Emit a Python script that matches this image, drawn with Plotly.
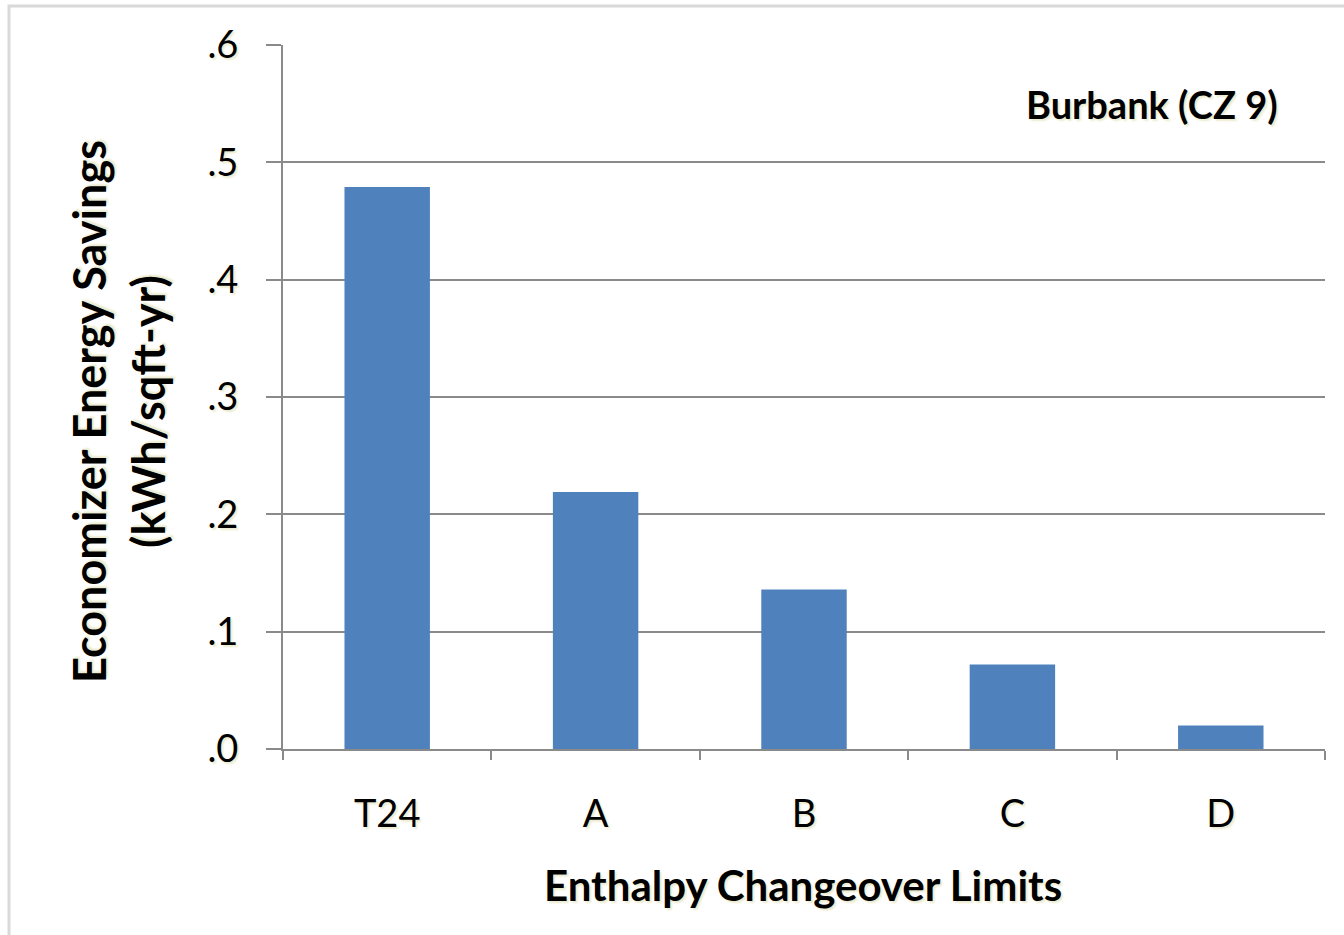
import plotly.graph_objects as go

categories = ["T24", "A", "B", "C", "D"]
savings = [0.479, 0.219, 0.136, 0.072, 0.020]
ytick_vals = [0.0, 0.1, 0.2, 0.3, 0.4, 0.5, 0.6]
ytick_text = [".0", ".1", ".2", ".3", ".4", ".5", ".6"]

W, H = 1344, 935
L, R, T, B = 283, 19, 45, 186
pw, ph = W - L - R, H - T - B

def px_x(x):
    return (x - L) / pw

def px_y(y):
    return (H - B - y) / ph

FONT = "Lato, Open Sans, sans-serif"
SHADOW = "2px 2px 2px #ecebcf"
GRID = "#8a8a8a"

fig = go.Figure(go.Bar(
    x=categories, y=savings,
    marker=dict(color="#4f81bd", line=dict(width=0)),
))

fig.update_layout(
    width=W, height=H,
    margin=dict(l=L, r=R, t=T, b=B, autoexpand=False),
    paper_bgcolor="white", plot_bgcolor="white",
    bargap=0.59,
    showlegend=False,
    font=dict(family=FONT, color="black", shadow=SHADOW),
    xaxis=dict(
        type="category",
        showgrid=False,
        showline=True, linecolor=GRID, linewidth=2,
        ticks="outside", tickson="boundaries", ticklen=9, tickwidth=2, tickcolor=GRID,
        tickfont=dict(size=38, family=FONT, shadow=SHADOW),
        ticklabelstandoff=30,
    ),
    yaxis=dict(
        range=[0, 0.6],
        tickvals=ytick_vals, ticktext=ytick_text,
        showgrid=True, gridcolor=GRID, gridwidth=2,
        showline=True, linecolor=GRID, linewidth=2,
        zeroline=False,
        ticks="outside", ticklen=15, tickwidth=2, tickcolor=GRID,
        tickfont=dict(size=38, family=FONT, shadow=SHADOW),
        ticklabelstandoff=20,
    ),
    annotations=[
        dict(text="Burbank (CZ 9)", xref="paper", yref="paper",
             x=px_x(1280), y=px_y(104), xanchor="right", yanchor="middle",
             showarrow=False, font=dict(size=38, family=FONT, weight="bold", shadow=SHADOW)),
        dict(text="Enthalpy Changeover Limits", xref="paper", yref="paper",
             x=px_x(803), y=px_y(885), xanchor="center", yanchor="middle",
             showarrow=False, font=dict(size=42, family=FONT, weight="bold", shadow=SHADOW)),
        dict(text="Economizer Energy Savings<br>(kWh/sqft-yr)", xref="paper", yref="paper",
             x=px_x(119), y=px_y(412), xanchor="center", yanchor="middle",
             textangle=-90, showarrow=False,
             font=dict(size=45, family=FONT, weight="bold", shadow=SHADOW)),
    ],
    shapes=[
        dict(type="rect", xref="paper", yref="paper",
             x0=px_x(9), x1=px_x(W + 20), y0=px_y(H + 20), y1=px_y(6),
             line=dict(color="#d9d9d9", width=3), fillcolor="rgba(0,0,0,0)", layer="below"),
    ],
)

fig.write_html(
    "out.html",
    config={"displayModeBar": False},
    post_script="document.body.style.margin='0px';document.body.style.overflow='hidden';",
)
